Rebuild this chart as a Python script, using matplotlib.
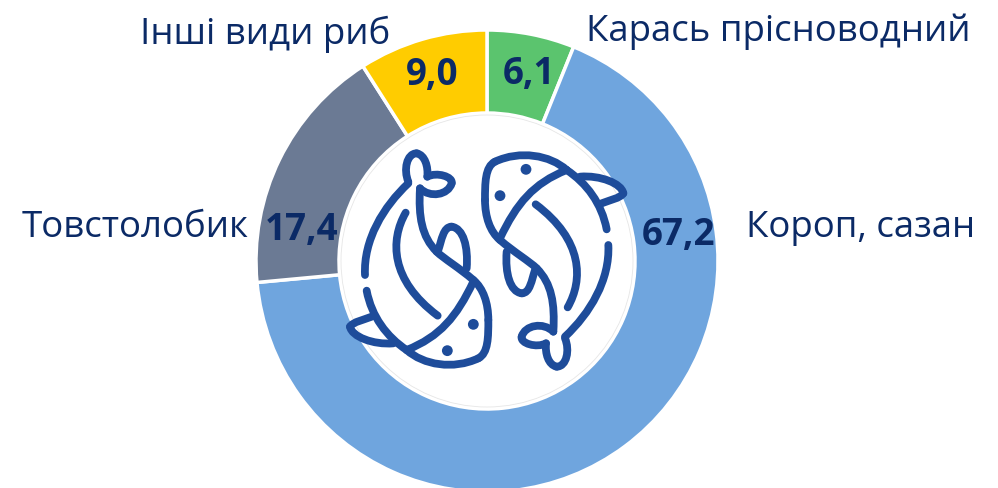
import matplotlib
matplotlib.use("Agg")
from matplotlib import pyplot as plt
from matplotlib.path import Path
from matplotlib.patches import PathPatch, Circle

plt.rcParams['font.family'] = ['Open Sans', 'DejaVu Sans']

# clockwise from 12 o'clock
names = ["Карась прісноводний", "Короп, сазан", "Товстолобик", "Інші види риб"]
values = [6.1, 67.2, 17.4, 9.0]
value_labels = ["6,1", "67,2", "17,4", "9,0"]
colors = ["#5BC46E", "#6FA5DE", "#6B7A94", "#FFCC00"]

navy = "#0B2A66"
fish = "#1E4C9A"

fig = plt.figure(figsize=(9.98, 4.88), dpi=100)
ax = fig.add_axes([0, 0, 1, 1])

# y axis is flipped so everything is in pixel coords, so counterclock reads clockwise
ax.pie(values, colors=colors, center=(487, 261), radius=231,
       startangle=270, counterclock=True, frame=False,
       wedgeprops=dict(width=83, edgecolor="white", linewidth=2.5))
ax.set_xlim(0, 998)
ax.set_ylim(488, 0)
ax.set_aspect("equal")
ax.axis("off")

ax.add_patch(Circle((487, 261), 146, fc="none", ec="#E6E6E6", lw=0.6))

# fish outline, traced in the coords of a 3x crop of the centre
fish_curves = [
    [(205, 130), (130, 200), (70, 300), (75, 405)],
    [(80, 452), (95, 530), (140, 590), (200, 630)],
    [(200, 630), (250, 675), (340, 690), (415, 655)],
    [(415, 655), (445, 640), (445, 590), (445, 540)],
    [(445, 540), (445, 490), (430, 445), (400, 420)],
    [(400, 420), (360, 385), (310, 355), (290, 335)],
    [(290, 335), (245, 290), (235, 230), (240, 145)],
    [(205, 125), (190, 90), (200, 40), (230, 40)],
    [(230, 40), (255, 45), (265, 80), (262, 110)],
    [(262, 110), (290, 95), (340, 110), (335, 130)],
    [(335, 130), (325, 165), (270, 175), (240, 145)],
    [(400, 425), (350, 530), (300, 590), (200, 630)],
    [(197, 218), (150, 300), (150, 420), (293, 527)],
    [(295, 330), (305, 300), (310, 260), (335, 260)],
    [(335, 260), (370, 265), (385, 320), (380, 385)],
    [(95, 530), (70, 540), (40, 545), (30, 560)],
    [(30, 560), (35, 590), (100, 615), (160, 610)],
]
fish_dots = [(400, 553), (322, 632)]


def crop_to_px(x, y, flip):
    # second fish is the first one turned by 180 degrees
    if flip:
        x, y = 880 - x, 720 - y
    return x / 3 + 340, y / 3 + 140


for flip in [False, True]:
    for curve in fish_curves:
        pts = [crop_to_px(x, y, flip) for x, y in curve]
        path = Path(pts, [Path.MOVETO, Path.CURVE4, Path.CURVE4, Path.CURVE4])
        ax.add_patch(PathPatch(path, fc="none", ec=fish, lw=5.6, capstyle="round", joinstyle="round"))
    for x, y in fish_dots:
        ax.add_patch(Circle(crop_to_px(x, y, flip), 5.4, fc=fish, ec="none"))

# name labels
ax.text(140, 34, names[3], fontsize=26.4, color=navy, va="center", ha="left")
ax.text(586, 32, names[0], fontsize=26.4, color=navy, va="center", ha="left")
ax.text(22, 228, names[2], fontsize=26.4, color=navy, va="center", ha="left")
ax.text(746, 228, names[1], fontsize=26.4, color=navy, va="center", ha="left")

# value labels
ax.text(679, 235, value_labels[1], fontsize=26.5, fontweight="bold", color=navy, va="center", ha="center")
ax.text(302, 230, value_labels[2], fontsize=26.5, fontweight="bold", color=navy, va="center", ha="center")
ax.text(432, 75, value_labels[3], fontsize=26.5, fontweight="bold", color=navy, va="center", ha="center")
ax.text(529, 74, value_labels[0], fontsize=26.5, fontweight="bold", color=navy, va="center", ha="center")

fig.savefig("out.png", dpi=100)
